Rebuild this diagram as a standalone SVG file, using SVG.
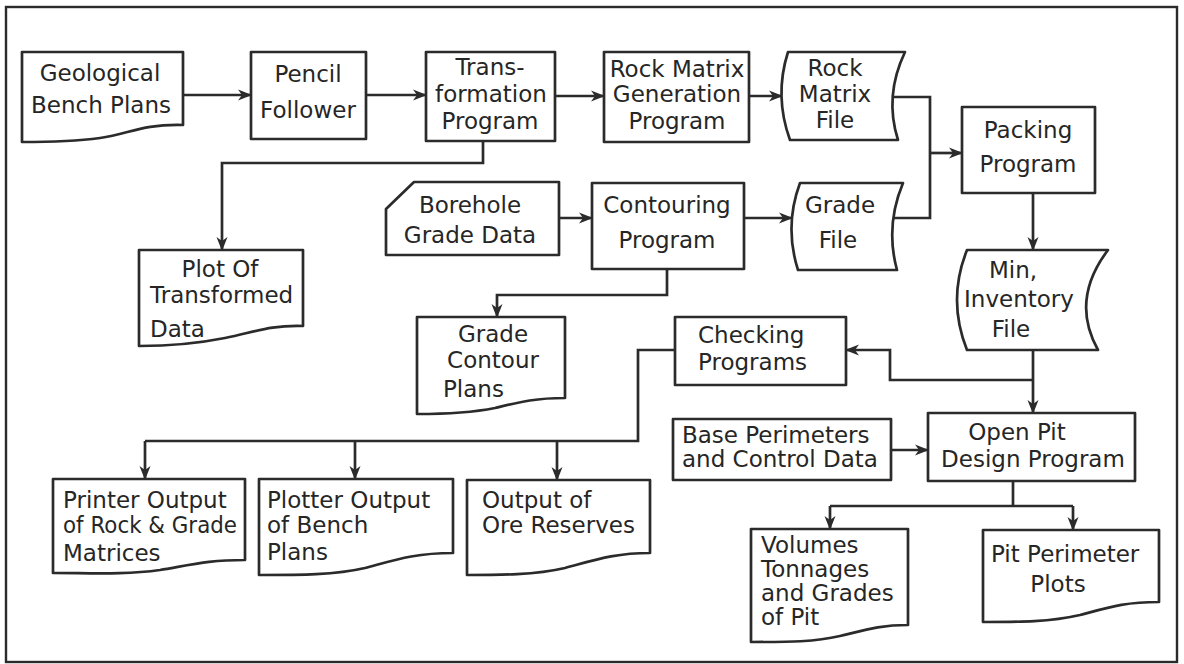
<svg xmlns="http://www.w3.org/2000/svg" width="1184" height="664" viewBox="0 0 1184 664">
<defs>
<style>
.s{fill:#fff;stroke:#2b2b2b;stroke-width:2.7;stroke-linejoin:round}
.c{fill:none;stroke:#2b2b2b;stroke-width:2.7;stroke-linejoin:miter}
.a{marker-end:url(#ah)}
text{font-family:"DejaVu Sans","Liberation Sans",sans-serif;font-size:23px;fill:#262626}
.m{text-anchor:middle}
</style>
<marker id="ah" markerUnits="userSpaceOnUse" markerWidth="14" markerHeight="12" viewBox="0 0 14 12" refX="13" refY="6" orient="auto">
<path d="M0,0.5 L14,6 L0,11.5 L4,6 Z" fill="#2b2b2b"/>
</marker>
</defs>
<rect x="0" y="0" width="1184" height="664" fill="#fff"/>
<rect x="6" y="7" width="1171" height="655" fill="none" stroke="#2b2b2b" stroke-width="2.4"/>

<g id="connectors">
<path class="c a" d="M183,95 H251"/>
<path class="c a" d="M366,95 H426"/>
<path class="c a" d="M555,96 H604"/>
<path class="c a" d="M749,96 H782"/>
<path class="c a" d="M483,141 V163 H222 V250"/>
<path class="c" d="M893,97 H930 V218 H893"/>
<path class="c a" d="M930,153 H962"/>
<path class="c a" d="M559,218 H592"/>
<path class="c a" d="M744,218 H792"/>
<path class="c a" d="M667,269 V295 H497 V317"/>
<path class="c a" d="M1033,193 V250"/>
<path class="c a" d="M1033,350 V413"/>
<path class="c a" d="M1033,380 H890 V350 H846"/>
<path class="c" d="M675,350 H638 V441 H145"/>
<path class="c a" d="M145,441 V479"/>
<path class="c a" d="M355,441 V479"/>
<path class="c a" d="M557,441 V480"/>
<path class="c a" d="M891,450 H928"/>
<path class="c" d="M1013,481 V506 M830,506 H1073"/>
<path class="c a" d="M830,506 V529"/>
<path class="c a" d="M1073,506 V530"/>
</g>

<g id="geological">
<path class="s" d="M22,52 H183 V125 C140,124 130,134 100,138 C70,142 45,142 22,142 Z"/>
<text class="m" x="100" y="81">Geological</text>
<text class="m" x="101" y="113">Bench Plans</text>
</g>

<g id="pencil">
<rect class="s" x="251" y="52" width="115" height="87"/>
<text class="m" x="308" y="82">Pencil</text>
<text class="m" x="308" y="118">Follower</text>
</g>

<g id="transformation">
<rect class="s" x="426" y="52" width="129" height="89"/>
<text class="m" x="490" y="75">Trans-</text>
<text class="m" x="491" y="102">formation</text>
<text class="m" x="490" y="129">Program</text>
</g>

<g id="rockgen">
<rect class="s" x="604" y="52" width="145" height="90"/>
<text class="m" x="677" y="77" font-size="22.5">Rock Matrix</text>
<text class="m" x="677" y="102">Generation</text>
<text class="m" x="677" y="129">Program</text>
</g>

<g id="rockfile">
<path class="s" d="M788,52 H905 Q884,96 898,140 H790 Q774,96 788,52 Z"/>
<text class="m" x="835" y="76">Rock</text>
<text class="m" x="835" y="102">Matrix</text>
<text class="m" x="835" y="128">File</text>
</g>

<g id="packing">
<rect class="s" x="962" y="107" width="133" height="86"/>
<text class="m" x="1028" y="138">Packing</text>
<text class="m" x="1028" y="172">Program</text>
</g>

<g id="plot">
<path class="s" d="M139,250 H303 V326 C270,325 255,332 225,338 C195,344 165,346 139,346 Z"/>
<text class="m" x="220" y="277">Plot Of</text>
<text x="150" y="303">Transformed</text>
<text x="150" y="337">Data</text>
</g>

<g id="borehole">
<path class="s" d="M414,182 H559 V255 H386 V209 Z"/>
<text class="m" x="470" y="213">Borehole</text>
<text class="m" x="470" y="243">Grade Data</text>
</g>

<g id="contouring">
<rect class="s" x="592" y="183" width="152" height="86"/>
<text class="m" x="667" y="213">Contouring</text>
<text class="m" x="667" y="248">Program</text>
</g>

<g id="gradefile">
<path class="s" d="M800,183 H903 Q885,226 897,270 H798 Q784,226 800,183 Z"/>
<text class="m" x="840" y="213">Grade</text>
<text class="m" x="838" y="248">File</text>
</g>

<g id="gradecontour">
<path class="s" d="M417,317 H565 V398 C535,398 520,402 495,408 C470,413 445,414 417,414 Z"/>
<text class="m" x="493" y="342">Grade</text>
<text class="m" x="493" y="368">Contour</text>
<text x="443" y="397">Plans</text>
</g>

<g id="mininventory">
<path class="s" d="M967,250 H1108 Q1070,300 1098,350 H967 Q947,300 967,250 Z"/>
<text class="m" x="1013" y="278">Min,</text>
<text class="m" x="1019" y="307">Inventory</text>
<text class="m" x="1011" y="337">File</text>
</g>

<g id="checking">
<rect class="s" x="675" y="317" width="171" height="68"/>
<text x="698" y="343">Checking</text>
<text x="698" y="370">Programs</text>
</g>

<g id="printer">
<path class="s" d="M53,479 H245 V560 C210,560 195,564 160,570 C125,575 90,573 53,573 Z"/>
<text x="63" y="508">Printer Output</text>
<text x="63" y="533" textLength="174" lengthAdjust="spacingAndGlyphs">of Rock &amp; Grade</text>
<text x="63" y="561">Matrices</text>
</g>

<g id="plotter">
<path class="s" d="M259,479 H453 V553 C415,553 395,560 365,568 C335,575 300,575 259,575 Z"/>
<text x="267" y="508">Plotter Output</text>
<text x="267" y="533">of Bench</text>
<text x="267" y="560">Plans</text>
</g>

<g id="orereserves">
<path class="s" d="M467,480 H650 V553 C615,553 595,560 565,568 C535,575 500,575 467,575 Z"/>
<text x="482" y="508">Output of</text>
<text x="482" y="533">Ore Reserves</text>
</g>

<g id="base">
<rect class="s" x="673" y="419" width="218" height="61"/>
<text x="682" y="443">Base Perimeters</text>
<text x="682" y="467">and Control Data</text>
</g>

<g id="openpit">
<rect class="s" x="928" y="413" width="207" height="68"/>
<text class="m" x="1017" y="440">Open Pit</text>
<text class="m" x="1033" y="467">Design Program</text>
</g>

<g id="volumes">
<path class="s" d="M751,529 H908 V625 C880,625 865,630 840,636 C815,642 790,642 751,642 Z"/>
<text x="761" y="553">Volumes</text>
<text x="761" y="577">Tonnages</text>
<text x="761" y="601">and Grades</text>
<text x="761" y="625">of Pit</text>
</g>

<g id="pitperimeter">
<path class="s" d="M983,530 H1159 V602 C1125,602 1110,607 1080,615 C1050,622 1020,622 983,622 Z"/>
<text x="991" y="562">Pit Perimeter</text>
<text class="m" x="1058" y="592">Plots</text>
</g>
</svg>
